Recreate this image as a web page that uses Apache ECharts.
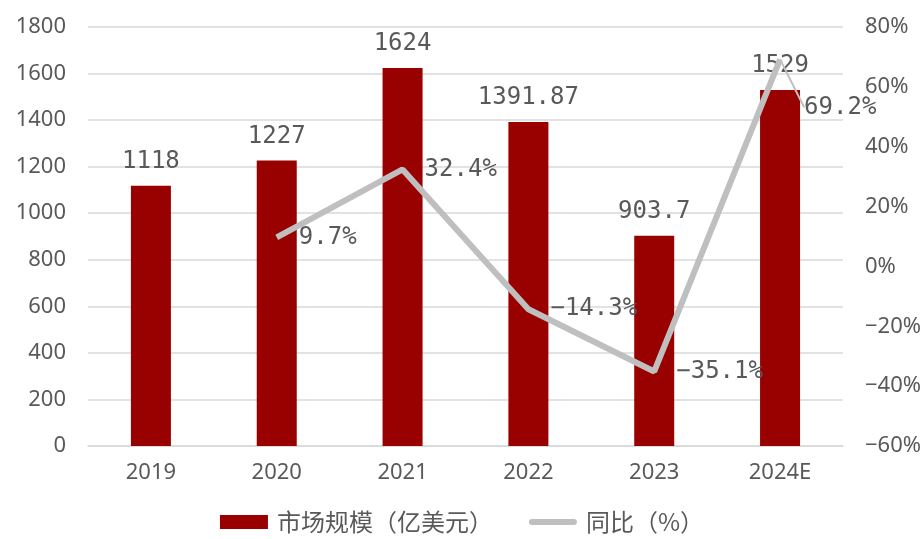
<!DOCTYPE html>
<html>
<head>
<meta charset="utf-8">
<script src="https://cdn.jsdelivr.net/npm/echarts@6/dist/echarts.min.js"></script>
<style>
  html, body { margin: 0; padding: 0; background: #fff; }
  #main { width: 924px; height: 539px; }
</style>
</head>
<body>
<div id="main"></div>
<script>
// data
const years = ['2019', '2020', '2021', '2022', '2023', '2024E'];
const marketSize = [1118, 1227, 1624, 1391.87, 903.7, 1529];
const yoy = [null, 9.7, 32.4, -14.3, -35.1, 69.2];

const textColor = '#595959';
const lineColor = '#bfbfbf';
const monoFont = 'DejaVu Sans Mono';

const chart = echarts.init(document.getElementById('main'));

// last point's label sits off to the lower right with a leader line
const yoyData = yoy.map(function (v, i) {
  if (i === yoy.length - 1) {
    return { value: v, labelLine: { show: true } };
  }
  return v;
});

const option = {
  animation: false,
  grid: {
    left: 88,
    right: 80,
    top: 27,
    bottom: 93
  },
  legend: {
    bottom: 0,
    left: 'center',
    itemGap: 36,
    itemWidth: 48,
    itemHeight: 14,
    textStyle: {
      color: textColor,
      fontSize: 24,
      fontFamily: 'Noto Sans CJK SC',
      padding: [0, 0, 0, 4]
    },
    data: [
      { name: '市场规模（亿美元）', icon: 'rect' },
      {
        name: '同比（%）',
        icon: 'path://M3,0 L45,0 A3,3 0 0 1 45,6 L3,6 A3,3 0 0 1 3,0 Z',
        itemStyle: { color: lineColor, opacity: 1 }
      }
    ]
  },
  xAxis: {
    type: 'category',
    data: years,
    axisTick: { show: false },
    axisLine: { lineStyle: { color: '#d9d9d9', width: 1.5 } },
    axisLabel: {
      color: textColor,
      fontSize: 22,
      fontFamily: 'Noto Sans',
      margin: 16
    }
  },
  yAxis: [
    {
      type: 'value',
      min: 0,
      max: 1800,
      interval: 200,
      axisLine: { show: false },
      axisTick: { show: false },
      splitLine: { lineStyle: { color: '#d9d9d9', width: 1.5 } },
      axisLabel: {
        color: textColor,
        fontSize: 22,
        fontFamily: 'Noto Sans',
        margin: 22,
        formatter: function (v) {
          return String(v);
        }
      }
    },
    {
      type: 'value',
      min: -60,
      max: 80,
      interval: 20,
      axisLine: { show: false },
      axisTick: { show: false },
      splitLine: { show: false },
      axisLabel: {
        color: textColor,
        fontSize: 22,
        fontFamily: 'Noto Sans',
        margin: 22,
        formatter: function (v) {
          return String(v).replace('-', '\u2212') + '%';
        }
      }
    }
  ],
  series: [
    {
      name: '市场规模（亿美元）',
      type: 'bar',
      data: marketSize,
      barWidth: 40,
      itemStyle: { color: '#990000' },
      label: {
        show: true,
        position: 'top',
        distance: 12,
        color: textColor,
        fontSize: 24,
        fontFamily: monoFont
      }
    },
    {
      name: '同比（%）',
      type: 'line',
      yAxisIndex: 1,
      data: yoyData,
      symbol: 'circle',
      symbolSize: 0.1,
      showSymbol: true,
      lineStyle: { color: lineColor, width: 6 },
      itemStyle: { color: lineColor },
      label: {
        show: true,
        position: 'right',
        distance: 22,
        color: textColor,
        fontSize: 24,
        fontFamily: monoFont,
        formatter: function (p) {
          return String(p.value).replace('-', '\u2212') + '%';
        }
      },
      labelLine: {
        show: false,
        lineStyle: { color: lineColor, width: 2 }
      },
      labelLayout: function (p) {
        if (p.dataIndex === 5) {
          return { dx: 2, dy: 48 };
        }
        return {};
      }
    }
  ]
};

chart.setOption(option);
</script>
</body>
</html>
